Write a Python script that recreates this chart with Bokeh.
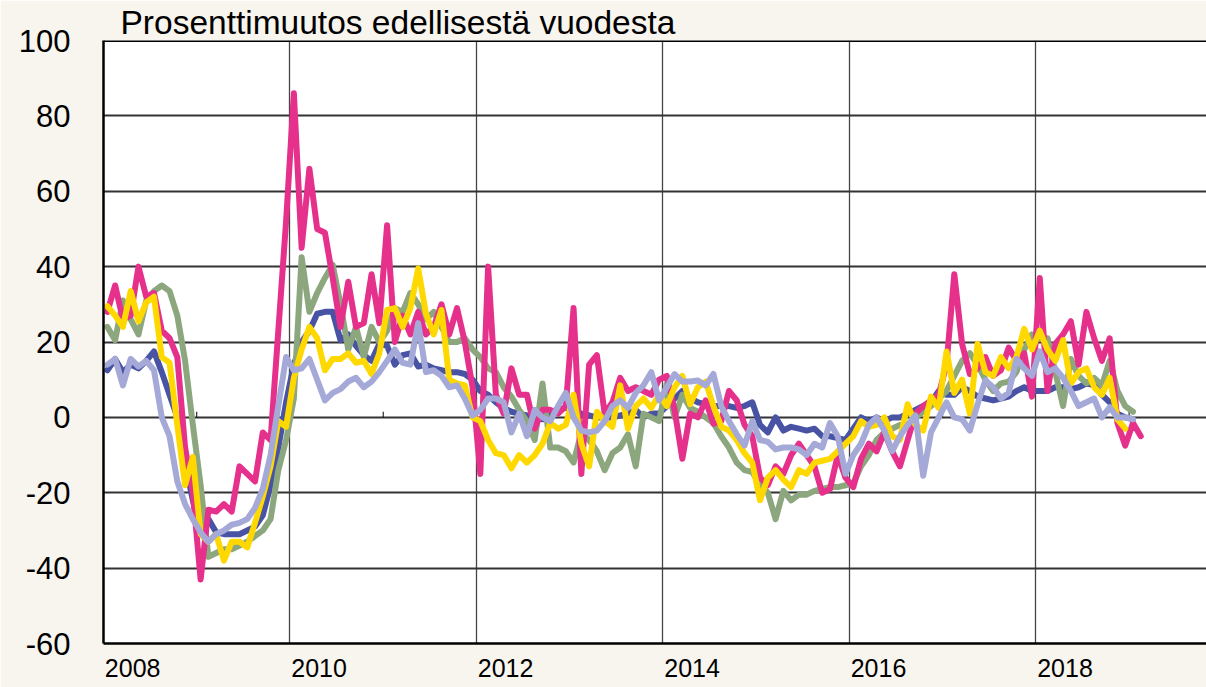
from bokeh.plotting import figure
from bokeh.models import Range1d, FixedTicker, Span
from bokeh.embed import file_html
from bokeh.resources import INLINE

title_text = "Prosenttimuutos edellisestä vuodesta"
start_year = 2008
x_label_years = [2008, 2010, 2012, 2014, 2016, 2018]
x_tick_labels = ["2008", "2010", "2012", "2014", "2016", "2018"]
grid_years = [2010, 2012, 2014, 2016, 2018]
minor_years = [2009, 2011, 2013, 2015, 2017, 2019]
y_ticks = [-60, -40, -20, 0, 20, 40, 60, 80, 100]
y_tick_labels = ["-60", "-40", "-20", "0", "20", "40", "60", "80", "100"]
y_grid = [-40, -20, 0, 20, 40, 60, 80]

# monthly series, starting January 2008
blue = [12.5, 15.5, 12, 14, 13, 15, 17.5, 12, 6, 0, -12, -22,
        -31, -27, -30.5, -31, -31, -31, -30, -29, -26, -18, -8, 4,
        14, 20, 23, 27.5, 28, 28, 20.5, 22, 19, 16.5, 15, 19.5,
        19, 14, 16.5, 17, 13.5, 14, 13, 12.5, 12, 12, 11.5, 10,
        7, 6, 4, 2.5, 1.5, 1, 0.5, 0, -0.5, 1.5, 2, 2.5,
        2, 1, 0.5, 0, 0, 0, 0.5, 1, 2, 0, 1, 1,
        3, 5, 7, 5, 4, 3.5, 3, 3, 3, 2.5, 3, 4,
        -2, -4, 0, -3.5, -2.5, -3, -3.5, -3, -5, -5, -5.5, -6,
        -3, 0, -1, 0, -1, 0, 0, 1, 2, 3, 4, 7,
        6, 6, 8, 7, 5.5, 5, 4.5, 5, 5.5, 7, 8, 7,
        7, 7, 8, 8, 7.5, 8, 9, 8.5, 6, 4, 1, 0,
        -0.5]

green = [24, 20.5, 31, 26, 22, 31, 33.5, 35, 33.5, 27, 15, -2,
         -18, -37, -36, -35, -35, -34, -33, -31.5, -30, -27, -14, -6,
         5, 42.5, 28, 33, 37, 40.5, 30, 18, 24, 16, 24, 20,
         23, 29, 28, 33, 30, 26, 28, 24, 20, 20, 21, 18,
         16, 13, 12, 8, 5.5, 2, -1, -6, 9, -8, -8, -9,
         -12, -4, -6, -9, -14, -9.5, -8, -4.5, -13, 1, 0, -1,
         9, 0, 6, 2.5, 1.5, 0, -1.5, -5, -8, -12, -14, -14.5,
         -18, -20, -27, -19.5, -22, -20.5, -20.5, -19.5, -19, -18.5, -18.5, -18,
         -17.5, -13, -10, -6, -4, -3, -2, -2.5, 0, 1.5, 3, 5,
         7, 11, 15, 17, 14, 10, 7, 9, 9.5, 12, 18, 22,
         21, 21, 12, 3, 15.5, 11, 9, 10.5, 8.5, 15, 7, 3,
         1.5]

magenta = [28, 35, 26, 27, 40, 32, 33, 23, 21, 16, -8, -20,
           -43, -24.5, -25, -23, -25, -13, -15, -17, -4, -6, 23, 52,
           86, 45, 66, 50, 49, 37, 24, 36, 24, 25, 38, 25,
           51, 20, 27, 22, 28, 22, 24, 30, 22, 29, 20, 8,
           -15, 40, 6, 1, 13, 6, 6, -3, 2, 2, 1, 3,
           29, -15, 14, 16.5, 1, 4, 10.5, 7, 8, 7, 6, 10,
           11, 2, -11, 1, 0, 4.5, -1.7, -1, 7, 4.5, -2, -5,
           -16, -18, -13, -15, -10, -7, -10, -13, -20, -19, -10, -16,
           -18.5, -11, -7, -9, -4, -9, -13, -6, 1, 3, 4.5, 6,
           14, 38, 19.5, 11.5, 13, 16, 11, 12.5, 18.5, 15, 17, 5.5,
           37, 7, 19.5, 22, 25.5, 14, 28, 21, 15, 21, -1.5, -7.5,
           -1.5, -5]

yellow = [29.5, 27, 24, 33.5, 25.5, 30.5, 32, 16, 14.5, -2, -18, -10.5,
          -31, -33, -31, -38, -33, -33, -34.5, -28, -21, -13, -1, -2.5,
          10.5, 18, 24, 21, 12.5, 15.5, 15.5, 17, 14.5, 15, 11.5, 17,
          28.5, 29, 24, 29, 39.5, 27.5, 22, 28.5, 10, 9, 8.5, 0,
          -1, -6, -9.5, -10, -13.5, -10, -12, -10, -7, -1.5, -3, -2,
          6, -7, -13, 1.5, -1, -2.5, 8.5, -3, 3, 5, 2.5, 6,
          3, 8, 11, 3.5, 8, 9.5, 3, -2.5, -3.5, -6, -9.5, -12,
          -22, -16, -14, -16.5, -18.5, -14, -15, -12, -11.5, -11, -9, -7,
          -5, -1, -2.5, -2, 0, -5, -6, 3.5, -2, -3.5, 5.5, 2.5,
          17.5, 6.5, 10, 1, 19.5, 12, 11, 16, 13, 16, 23.5, 18,
          23, 18, 15, 20.5, 9, 12, 13, 8, 6, 10.5, -0.5, -3]

lavender = [14, 15.5, 8.5, 15.5, 13.5, 15, 12.5, 0, -5, -17, -23, -27,
            -30.5, -33, -31, -30, -28.5, -28, -27, -24, -19, -10, 3, 16,
            12.5, 13, 15.5, 10, 4.5, 6.5, 7.5, 9.5, 10.5, 8, 9.5, 12,
            15, 18, 14.5, 14, 25, 12, 12.5, 11, 8, 8.5, 5, 0.5,
            2, 5, 5, 4, -4, 1, -5, 2, 0, -1, 3, 6.5,
            0, -3.5, -4, -3.5, -1, 3, 4.5, 2.5, 6.5, 8.5, 12, 4.5,
            8, 11.5, 9.5, 9.5, 9.8, 8.5, 11.5, 3, -1, -4.5, -7.5, -1,
            -6, -6.5, -8.5, -8, -8, -8.5, -10, -7, -8, -1.5, -5, -15,
            -10, -7, -2, 0, -3.5, -9, -5, -2, 0.5, -15.5, -4, 0,
            4, 0, -0.5, -3.5, 3.5, 9.8, 8, 5, 6.5, 15.5, 13, 11,
            17.5, 12, 13, 10.5, 7, 3, 4, 5, 0, 2.7, 0, 0,
            -0.5]

BG = "#f8f4ee"
FONT = "Liberation Sans"
LABEL_SHIFT = 0.3125  # year labels sit to the right of their gridline
series = [
    (blue, "#4853a4"),
    (green, "#8ca67e"),
    (magenta, "#e5318b"),
    (yellow, "#ffd800"),
    (lavender, "#a4a9d7"),
]


def month_x(vals):
    return [start_year + (i + 0.5) / 12 for i in range(len(vals))]


p = figure(width=1206, height=687, output_backend="svg", toolbar_location=None,
           title=title_text,
           x_range=Range1d(2008, 2019.83), y_range=Range1d(-60, 100),
           min_border_left=103, min_border_right=0, min_border_top=40,
           min_border_bottom=44,
           border_fill_color=BG, background_fill_color="white",
           outline_line_color=None)

p.title.text_font = FONT
p.title.text_font_size = "33.5px"
p.title.text_font_style = "normal"
p.title.text_color = "black"
p.title.align = "left"
p.title.offset = 17
p.title.standoff = 0

# y axis
p.yaxis.ticker = FixedTicker(ticks=y_ticks)
p.yaxis.major_label_overrides = {t: l for t, l in zip(y_ticks, y_tick_labels)}
p.yaxis.major_label_text_font_size = "31px"
p.yaxis.major_label_text_font = FONT
p.yaxis.major_label_text_color = "black"
p.yaxis.major_label_standoff = 33
p.yaxis.major_tick_out = 0
p.yaxis.major_tick_in = 0
p.yaxis.minor_tick_out = 0
p.yaxis.minor_tick_in = 0
p.yaxis.axis_line_width = 2.5
p.yaxis.axis_line_color = "black"

# x axis: labels placed just right of each two-year gridline
x_label_pos = [y + LABEL_SHIFT for y in x_label_years]
p.xaxis.ticker = FixedTicker(ticks=x_label_pos)
p.xaxis.major_label_overrides = {t: l for t, l in zip(x_label_pos, x_tick_labels)}
p.xaxis.major_label_text_font_size = "25px"
p.xaxis.major_label_text_font = FONT
p.xaxis.major_label_text_color = "black"
p.xaxis.major_label_standoff = 15
p.xaxis.major_tick_out = 0
p.xaxis.major_tick_in = 0
p.xaxis.minor_tick_out = 0
p.xaxis.minor_tick_in = 0
p.xaxis.axis_line_width = 2.5
p.xaxis.axis_line_color = "black"

p.xgrid.ticker = FixedTicker(ticks=grid_years)
p.xgrid.grid_line_color = "#444444"
p.xgrid.grid_line_width = 1.3
p.ygrid.ticker = FixedTicker(ticks=y_grid)
p.ygrid.grid_line_color = "#333333"
p.ygrid.grid_line_width = 1.8

p.add_layout(Span(location=100, dimension="width", line_color="black", line_width=3))

# small ticks on the zero line at odd years
p.segment(x0=minor_years, y0=[0] * len(minor_years), x1=minor_years,
          y1=[1.5] * len(minor_years), line_color="black", line_width=1)

for vals, col in series:
    p.line(month_x(vals), vals, line_color=col, line_width=6,
           line_join="round", line_cap="round")

open("out.html", "w").write(file_html(p, INLINE))
